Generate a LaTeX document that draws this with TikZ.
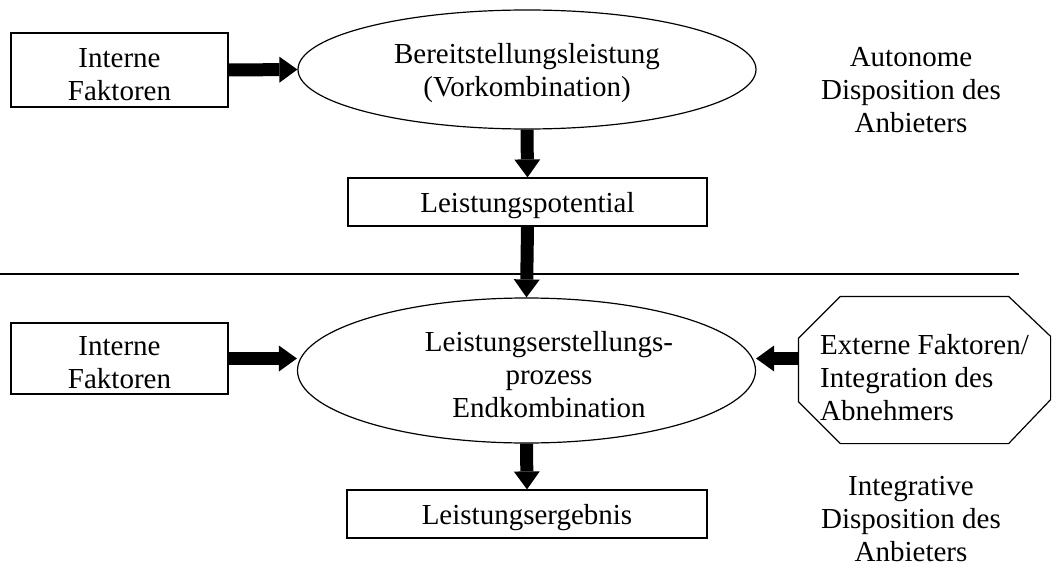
\documentclass[tikz,border=0pt]{standalone}
\usepackage{fontspec}
\setmainfont{Liberation Serif}
\usetikzlibrary{arrows.meta,shapes.geometric}
\newcommand\hoch{\rule{0pt}{28pt}}

\begin{document}
\begin{tikzpicture}[x=1pt,y=-1pt,line width=1.2pt,
  every node/.style={font=\fontsize{29pt}{33pt}\selectfont,align=center,inner sep=0pt},
  kasten/.style={draw,minimum width=217pt,minimum height=72pt},
  oval/.style={draw,ellipse,minimum width=458pt},
  pfeil/.style={line width=13pt,-{Triangle[width=26pt,length=18pt,line width=0pt]}}]
\useasboundingbox (0,0) rectangle (1056,567);
% autonome Disposition
\node[kasten,minimum height=74pt] (int1) at (119.5,70) {\hoch Interne\\Faktoren};
\node[oval,minimum height=119pt] (vork) at (527,69.5) {\hoch Bereitstellungsleistung\\(Vorkombination)};
\node (auto) at (911,86) {\hoch Autonome\\Disposition des\\Anbieters};
\node[kasten,minimum width=359pt,minimum height=48pt] (pot) at (527.5,202) {\hoch Leistungspotential};
\draw (0,274)--(1019,274);
% integrative Disposition
\node[kasten,minimum height=71pt] (int2) at (119.5,358.5) {\hoch Interne\\Faktoren};
\node[oval,minimum height=145pt] (proz) at (526.5,370.5) {};
\node (proztext) at (549,371) {\hoch Leistungserstellungs-\\prozess\\Endkombination};
\node[minimum width=251pt,minimum height=146pt,align=left] (ext) at (924.5,370)
  {\rule{0pt}{36pt}Externe Faktoren/\\Integration des\\Abnehmers};
\draw ([xshift=42pt]ext.north west)--([xshift=-42pt]ext.north east)--([yshift=-40pt]ext.north east)
  --([yshift=44pt]ext.south east)--([xshift=-42pt]ext.south east)--([xshift=42pt]ext.south west)
  --([yshift=42pt]ext.south west)--([yshift=-42pt]ext.north west)--cycle;
\node (integ) at (911,515) {\hoch Integrative\\Disposition des\\Anbieters};
\node[kasten,minimum width=360pt,minimum height=48pt] (erg) at (527,514) {\hoch Leistungsergebnis};
% Pfeile
\draw[pfeil] (int1.east)--(vork.west);
\draw[pfeil] (vork.south)--(pot.north);
\draw[pfeil] (pot.south)--(proz.north);
\draw[pfeil] (int2.east)--(int2.east -| proz.west);
\draw[pfeil] (ext.west |- int2.east)--(proz.east |- int2.east);
\draw[pfeil] (proz.south)--(erg.north);
\end{tikzpicture}
\end{document}
